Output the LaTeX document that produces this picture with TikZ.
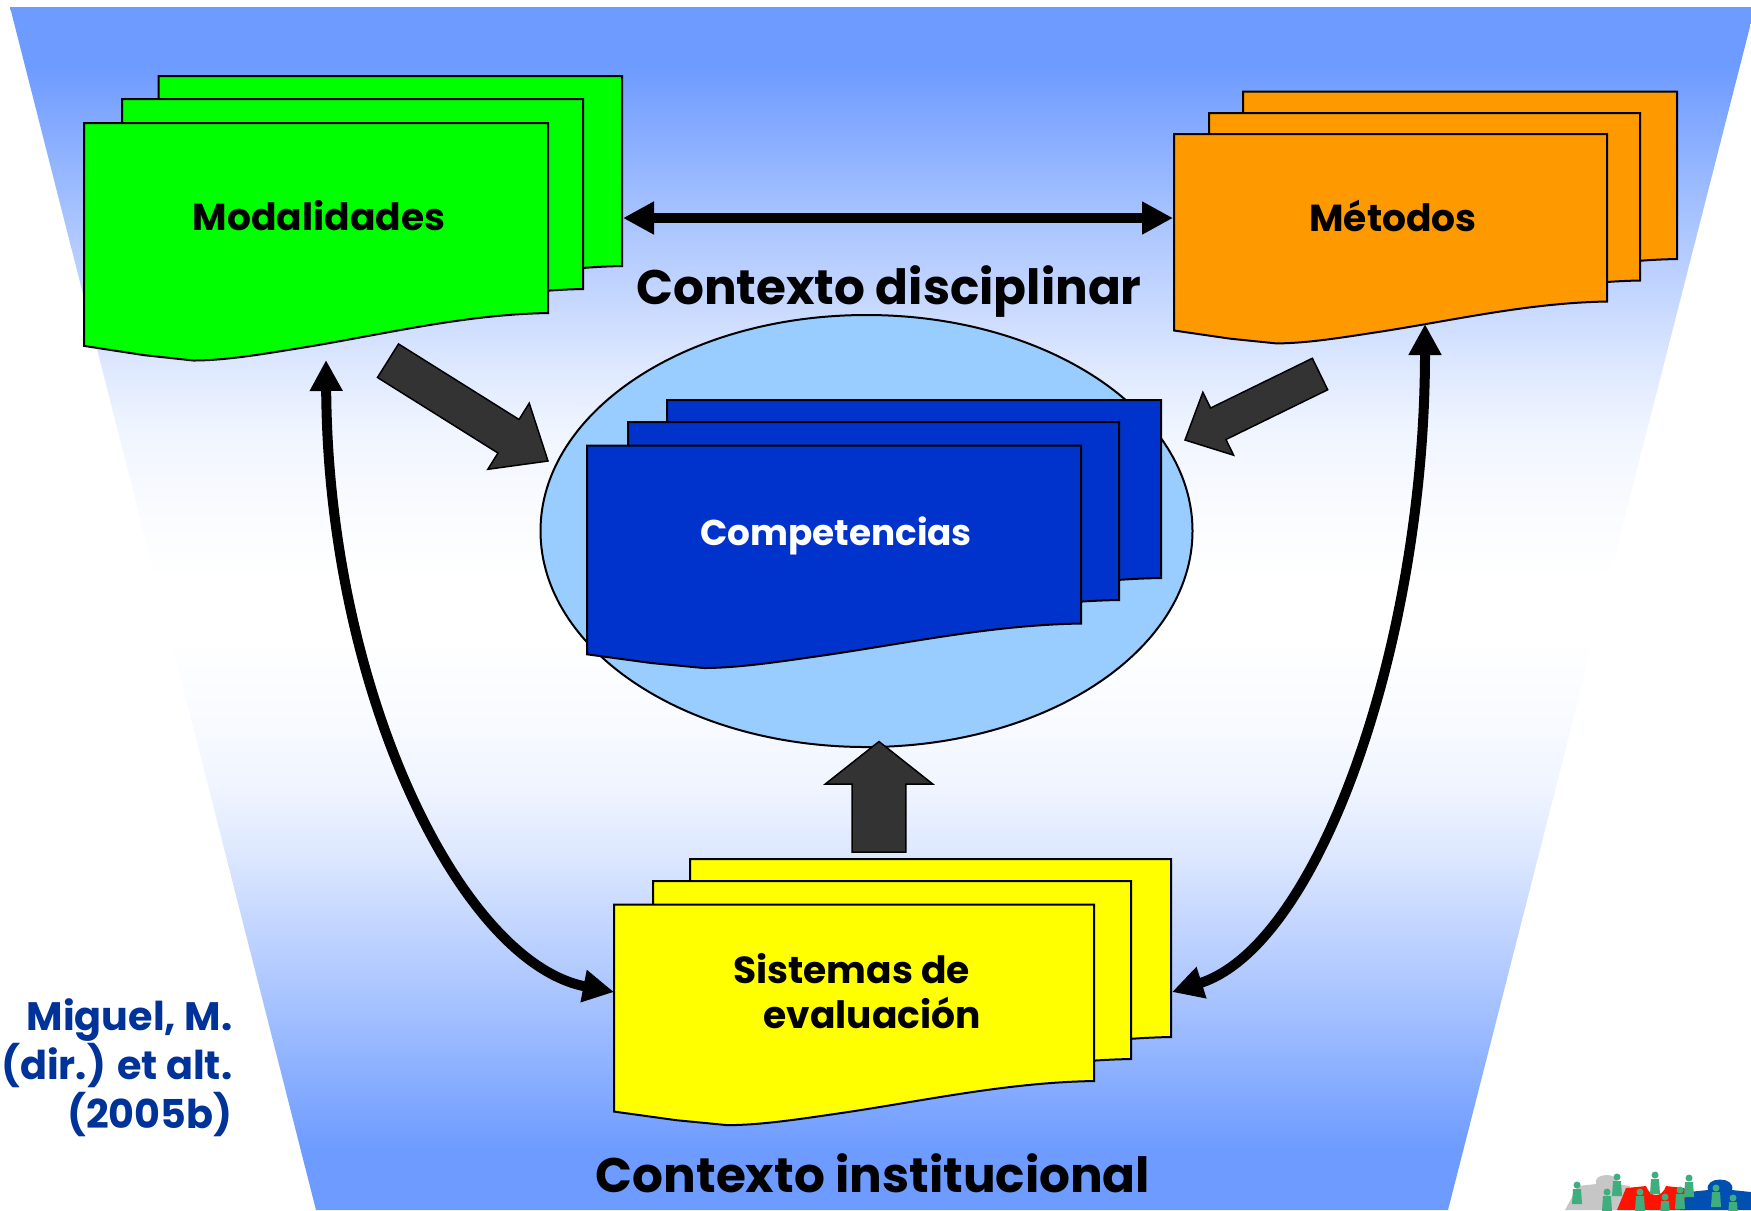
\documentclass[tikz,border=0pt]{standalone}
\usepackage{fontspec}
\setmainfont{Poppins}
\usetikzlibrary{arrows.meta,calc}

\definecolor{skyblue}{HTML}{6C9AFF}
\definecolor{ovalblue}{HTML}{99CCFF}
\definecolor{sheetgreen}{HTML}{00FF00}
\definecolor{sheetorange}{HTML}{FF9900}
\definecolor{sheetblue}{HTML}{0033CC}
\definecolor{sheetyellow}{HTML}{FFFF00}
\definecolor{citeblue}{HTML}{003399}
\definecolor{blockgray}{HTML}{333333}
\definecolor{figgreen}{HTML}{3FAE7F}

\pgfdeclareverticalshading{skyfade}{100bp}{
  color(0bp)=(skyblue); color(27.5bp)=(skyblue!99!white); color(33.5bp)=(skyblue!61!white);
  color(36.5bp)=(skyblue!43!white); color(39.65bp)=(skyblue!24!white); color(42.7bp)=(skyblue!10!white);
  color(45.75bp)=(skyblue!4!white); color(48.75bp)=(white); color(51.25bp)=(white);
  color(54.25bp)=(skyblue!4!white); color(57.3bp)=(skyblue!10!white); color(60.35bp)=(skyblue!24!white);
  color(63.5bp)=(skyblue!43!white); color(66.5bp)=(skyblue!61!white); color(72.5bp)=(skyblue!99!white);
  color(100bp)=(skyblue)}

\tikzset{
  sheetline/.style={draw=black,line width=0.2mm},
  blockline/.style={draw=black,line width=0.15mm,fill=blockgray},
  linkline/.style={line width=1mm,{Triangle[length=3.1mm,width=3.1mm]}-{Triangle[length=3.1mm,width=3.1mm]}},
  sheetlabel/.style={font=\fontsize{10.7}{13}\selectfont\bfseries},
  contextlabel/.style={font=\fontsize{13.8}{16}\selectfont\bfseries},
  citelabel/.style={font=\fontsize{11.3}{14}\selectfont\bfseries,text=citeblue,align=right,inner sep=0pt}
}

% x, y of the corner, width, height, colour
\newcommand{\sheet}[5]{
  \draw[sheetline,fill=#5,shift={(#1, #2)},xscale=#3,yscale=#4]
    (0, 0) -- (1, 0) -- (1, 1)
    .. controls (0.82, 1.008) and (0.65, 1.11) .. (0.477, 1.18)
    .. controls (0.40, 1.21) and (0.31, 1.25) .. (0.236, 1.25)
    -- (0.13, 1.222) -- (0, 1.173) -- cycle;
}
% tail, tip, half shaft, half head, head length
\newcommand{\blockarrow}[5]{
  \coordinate (neck) at ($(#2)!#5!(#1)$);
  \draw[blockline] ($(#1)!#3!90:(#2)$) -- ($(neck)!#3!90:(#2)$) -- ($(neck)!#4!90:(#2)$)
    -- (#2) -- ($(neck)!#4!-90:(#2)$) -- ($(neck)!#3!-90:(#2)$) -- ($(#1)!#3!-90:(#2)$) -- cycle;
}

\begin{document}
\begin{tikzpicture}[x=0.1mm,y=-0.1mm]
  \useasboundingbox (0, 0) rectangle (1751, 1210);

  \shade[shading=skyfade]
    (10, 7) -- (1755, 7) -- (1448, 1210) -- (316, 1210) -- cycle;

  \draw[sheetline,fill=ovalblue] (866.5, 531) ellipse (326 and 216);

  \sheet{158.5}{76}{463.5}{190}{sheetgreen}
  \sheet{122}{99}{461}{190}{sheetgreen}
  \sheet{84}{123}{464}{190}{sheetgreen}

  \sheet{1243}{91.5}{434}{167.5}{sheetorange}
  \sheet{1209}{113}{431}{167.5}{sheetorange}
  \sheet{1174}{134}{433}{167.5}{sheetorange}

  \sheet{667}{400}{494}{178}{sheetblue}
  \sheet{628}{422}{491}{178}{sheetblue}
  \sheet{587}{445.5}{494}{178}{sheetblue}

  \sheet{690}{859}{481}{178}{sheetyellow}
  \sheet{653}{881}{478}{178}{sheetyellow}
  \sheet{614}{904.5}{480}{176.5}{sheetyellow}

  \node[sheetlabel] (modalidades) at (319, 216) {Modalidades};
  \node[sheetlabel] (metodos) at (1393, 216) {Métodos};
  \node[sheetlabel,text=white,font=\fontsize{10.2}{13}\selectfont\bfseries] (competencias) at (836, 536) {Competencias};
  \node[sheetlabel,align=left] (sistemas) at (857, 991) {Sistemas de\\\hspace*{3mm}evaluación};

  \node[contextlabel] (disciplinar) at (889, 292) {Contexto disciplinar};
  \node[contextlabel] (institucional) at (873, 1173) {Contexto institucional};

  \node[citelabel,anchor=east] (cita) at (233, 1068) {Miguel, M.\\(dir.) et alt.\\(2005b)};

  \coordinate (modalidadesE) at (623, 218);
  \coordinate (metodosW) at (1173, 218);
  \coordinate (modalidadesS) at (326, 360);
  \coordinate (metodosS) at (1425, 324);
  \coordinate (sistemasW) at (614, 992);
  \coordinate (sistemasE) at (1172, 992);

  \draw[linkline] (modalidadesE) -- (metodosW);
  \draw[linkline] (modalidadesS) .. controls (328, 690) and (460, 962) .. (sistemasW);
  \draw[linkline] (metodosS) .. controls (1425, 640) and (1320, 945) .. (sistemasE);

  \coordinate (tailA) at (388, 360.7);
  \coordinate (tipA) at (548, 461);
  \coordinate (tailB) at (1320, 374);
  \coordinate (tipB) at (1185, 440);
  \coordinate (tailC) at (879, 852);
  \coordinate (tipC) at (879, 741.5);

  \blockarrow{tailA}{tipA}{1.98mm}{3.9mm}{4.66mm}
  \blockarrow{tailB}{tipB}{1.75mm}{3.5mm}{3.7mm}
  \blockarrow{tailC}{tipC}{2.68mm}{5.37mm}{4.25mm}

  % puzzle in the corner
  \fill[gray!45!white] (1565, 1210) -- (1578, 1186) -- (1596, 1184) .. controls (1592, 1172) and (1622, 1172) .. (1616, 1184) -- (1630, 1186) -- (1622, 1210) -- cycle;
  \fill[red!85!orange] (1617, 1210) -- (1626, 1188) -- (1646, 1186) .. controls (1650, 1198) and (1662, 1198) .. (1666, 1186) -- (1684, 1188) -- (1700, 1204) -- (1690, 1210) -- cycle;
  \fill[blue!55!cyan!70!black] (1680, 1210) -- (1688, 1192) -- (1708, 1190) .. controls (1704, 1176) and (1736, 1176) .. (1732, 1190) -- (1751, 1192) -- (1751, 1210) -- cycle;
  \foreach \px/\py in {1577/1195, 1607/1202, 1617/1187, 1640/1202, 1655/1185, 1665/1207, 1680/1200, 1689/1188, 1716/1198, 1733/1208} {
    \fill[figgreen] (\px, \py - 10) circle (3.5);
    \fill[figgreen] (\px - 5, \py + 9) -- (\px - 4, \py - 6) -- (\px + 4, \py - 6) -- (\px + 5, \py + 9) -- cycle;
  }

\end{tikzpicture}
\end{document}
